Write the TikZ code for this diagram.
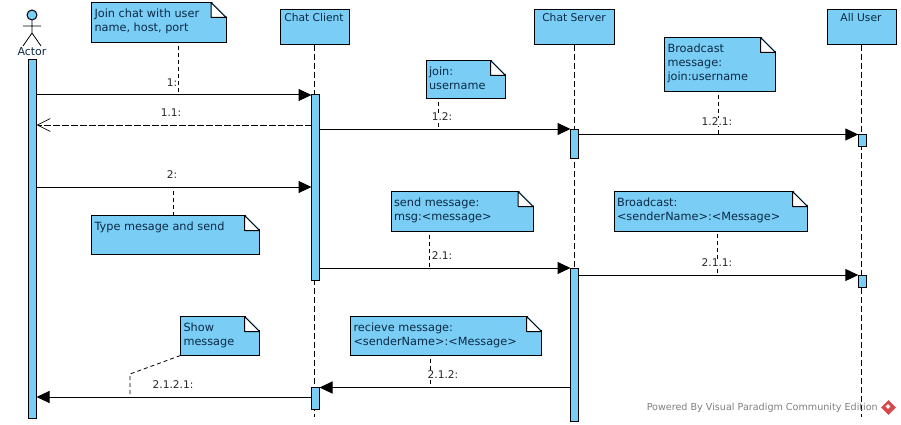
\documentclass[tikz,border=0pt]{standalone}
\usepackage{fontspec}
\setmainfont{DejaVu Sans}
\usepackage{xcolor}
\usepackage{tikz}
\usetikzlibrary{arrows.meta,positioning,shapes.geometric}
\definecolor{vpblue}{HTML}{7ACDF5}
\definecolor{vpnavy}{HTML}{0B2A45}
\definecolor{vpgray}{HTML}{7F7F7F}
\definecolor{vpred}{HTML}{D9484A}
\newcommand{\notetext}[3]{\parbox[c][#2pt][t]{#1pt}{\vspace*{3pt}#3}}
\tikzset{
  headbox/.style={draw,line width=1pt,fill=vpblue,anchor=north west,inner sep=0pt,outer sep=0pt},
  headname/.style={font=\fontsize{10.7}{12}\selectfont,text=vpnavy,inner sep=0pt},
  actbox/.style={draw,line width=1pt,fill=vpblue,anchor=north west,inner sep=0pt,outer sep=0pt,minimum width=8pt},
  notebox/.style={draw,line width=1pt,fill=vpblue,anchor=north west,inner sep=3pt,outer sep=0pt,text=vpnavy,font=\fontsize{11.3}{14.3}\selectfont},
  msglabel/.style={font=\fontsize{10.6}{12}\selectfont,text=black!85,inner sep=.5pt,fill=white},
  lifeline/.style={line width=1pt,dash pattern=on 6pt off 3pt},
  notelink/.style={line width=.8pt,dash pattern=on 4pt off 3pt},
  syncmsg/.style={line width=1pt,-{Triangle[length=13pt,width=12pt]}},
  retmsg/.style={line width=.8pt,dash pattern=on 7pt off 2pt,-{Straight Barb[length=13pt,width=13pt,line width=.7pt,sep=0pt]}}
}
\begin{document}
\begin{tikzpicture}[x=1pt,y=-1pt]
    \useasboundingbox (0,0) rectangle (901,425);
    % lifeline heads
    \node[headbox,minimum width=69.5pt,minimum height=35pt] (client) at (280,10) {};
    \node[headbox,minimum width=80pt,minimum height=35pt] (server) at (534,10) {};
    \node[headbox,minimum width=69.5pt,minimum height=35pt] (users) at (827,10) {};
    \node[headname] (clientname) at (314,17.5) {Chat Client};
    \node[headname] (servername) at (574,17.5) {Chat Server};
    \node[headname] (usersname) at (861,17.5) {All User};
    \coordinate (clientend) at (314,417);
    \coordinate (serverend) at (574.5,417);
    \coordinate (usersend) at (861,417);
    \foreach \n in {client,server,users} {\draw[lifeline] (\n.south -| \n end) -- (\n end);}
    % actor
    \node[circle,draw,line width=1pt,fill=vpblue,minimum size=10pt,inner sep=0pt] (head) at (32,15) {};
    \coordinate (hip) at (32,33);
    \draw[line width=.8pt] (head.south) -- (hip) -- (23,46) (hip) -- (41,46) (23,26) -- (41,26);
    \node[font=\fontsize{11}{12}\selectfont,text=vpnavy,inner sep=0pt] (actor) at (32,52) {Actor};
    % activations
    \node[actbox,minimum height=358.5pt] (actactor) at (28.5,59.5) {};
    \node[actbox,minimum height=185pt] (actclienta) at (311.5,95) {};
    \node[actbox,minimum height=22pt] (actclientb) at (311.5,387) {};
    \node[actbox,minimum height=29pt] (actservera) at (570.5,129) {};
    \node[actbox,minimum height=153pt] (actserverb) at (570.5,268) {};
    \node[actbox,minimum height=12pt] (actusersa) at (858.3,134.5) {};
    \node[actbox,minimum height=12pt] (actusersb) at (858.3,275) {};
    % messages
    \draw[syncmsg] (actactor.east |- 0,95) -- (actclienta.west |- 0,95);
    \draw[retmsg] (actclienta.west |- 0,125) -- (actactor.east |- 0,125);
    \draw[syncmsg] (actclienta.east |- 0,129) -- (actservera.west |- 0,129);
    \draw[syncmsg] (actservera.east |- 0,134.5) -- (actusersa.west |- 0,134.5);
    \draw[syncmsg] (actactor.east |- 0,187) -- (actclienta.west |- 0,187);
    \draw[syncmsg] (actclienta.east |- 0,268) -- (actserverb.west |- 0,268);
    \draw[syncmsg] (actserverb.east |- 0,275) -- (actusersb.west |- 0,275);
    \draw[syncmsg] (actserverb.west |- 0,387.5) -- (actclientb.east |- 0,387.5);
    \draw[syncmsg] (actclientb.west |- 0,397) -- (actactor.east |- 0,397);
    % notes
    \node[notebox] (notejoin) at (91.5,2.5) {\notetext{128.5}{34.5}{Join chat with user\\name, host, port}};
    \node[notebox] (notetype) at (91.5,215.5) {\notetext{162}{33}{Type mesage and send}};
    \node[notebox] (noteshow) at (180.5,316.5) {\notetext{73}{33}{Show\\message}};
    \node[notebox] (noteuser) at (426,60.5) {\notetext{73.5}{32.5}{join:\\username}};
    \node[notebox] (notesend) at (391,191.5) {\notetext{136}{34}{send message:\\msg:<message>}};
    \node[notebox] (noterecv) at (350.5,316.5) {\notetext{185}{33}{recieve message:\\<senderName>:<Message>}};
    \node[notebox] (notebjoin) at (664.5,37.5) {\notetext{105}{48.5}{Broadcast\\message:\\join:username}};
    \node[notebox] (notebmsg) at (614,191.5) {\notetext{187.5}{33.5}{Broadcast:\\<senderName>:<Message>}};
    % folded corners
    \foreach \n in {notejoin,notetype,noteshow,noteuser,notesend,noterecv,notebjoin,notebmsg} {
      \fill[white] ([xshift=-15pt,yshift=1.5pt]\n.north east) -- ++(17pt,0) -- ++(0,-17pt) -- cycle;
      \draw[line width=1pt,fill=white,line join=round] ([xshift=-15pt]\n.north east) -- ++(15pt,-15pt) -- ++(-15pt,0) -- cycle;
    }
    % note links
    \foreach \n/\x/\y in {notejoin/178/95,noteuser/438.5/129,notesend/429.5/268,noterecv/430.5/387.5,notebjoin/718/134.5,notebmsg/717.5/275} {\draw[notelink,shorten <=3pt] (\n.south -| \x,0) -- (\x,\y);}
    \draw[notelink] (notetype.north -| 173,0) -- (173,187);
    \coordinate (showbend) at (130,374);
    \draw[notelink] (noteshow.south west) -- (showbend) -- (130,397);
    % message labels
    \node[msglabel] (lblone) at (172,83) {1:};
    \node[msglabel] (lbloneone) at (171,113) {1.1:};
    \node[msglabel] (lblonetwo) at (442,117) {1.2:};
    \node[msglabel] (lblonetwoone) at (717,122) {1.2.1:};
    \node[msglabel] (lbltwo) at (172,175) {2:};
    \node[msglabel] (lbltwoone) at (442,256) {2.1:};
    \node[msglabel] (lbltwooneone) at (717,263) {2.1.1:};
    \node[msglabel] (lbltwoonetwo) at (443,375) {2.1.2:};
    \node[msglabel] (lblshow) at (173,385) {2.1.2.1:};
    % watermark
    \node[font=\fontsize{9.6}{11}\selectfont,text=vpgray,inner sep=0pt,anchor=east] (powered) at (878,408) {Powered By Visual Paradigm Community Edition};
    \node[diamond,fill=vpred,minimum size=15pt,inner sep=0pt] (logo) at (888.5,407.5) {};
    \node[diamond,fill=white,minimum size=5pt,inner sep=0pt] (logomark) at (888,406.5) {};
\end{tikzpicture}
\end{document}
